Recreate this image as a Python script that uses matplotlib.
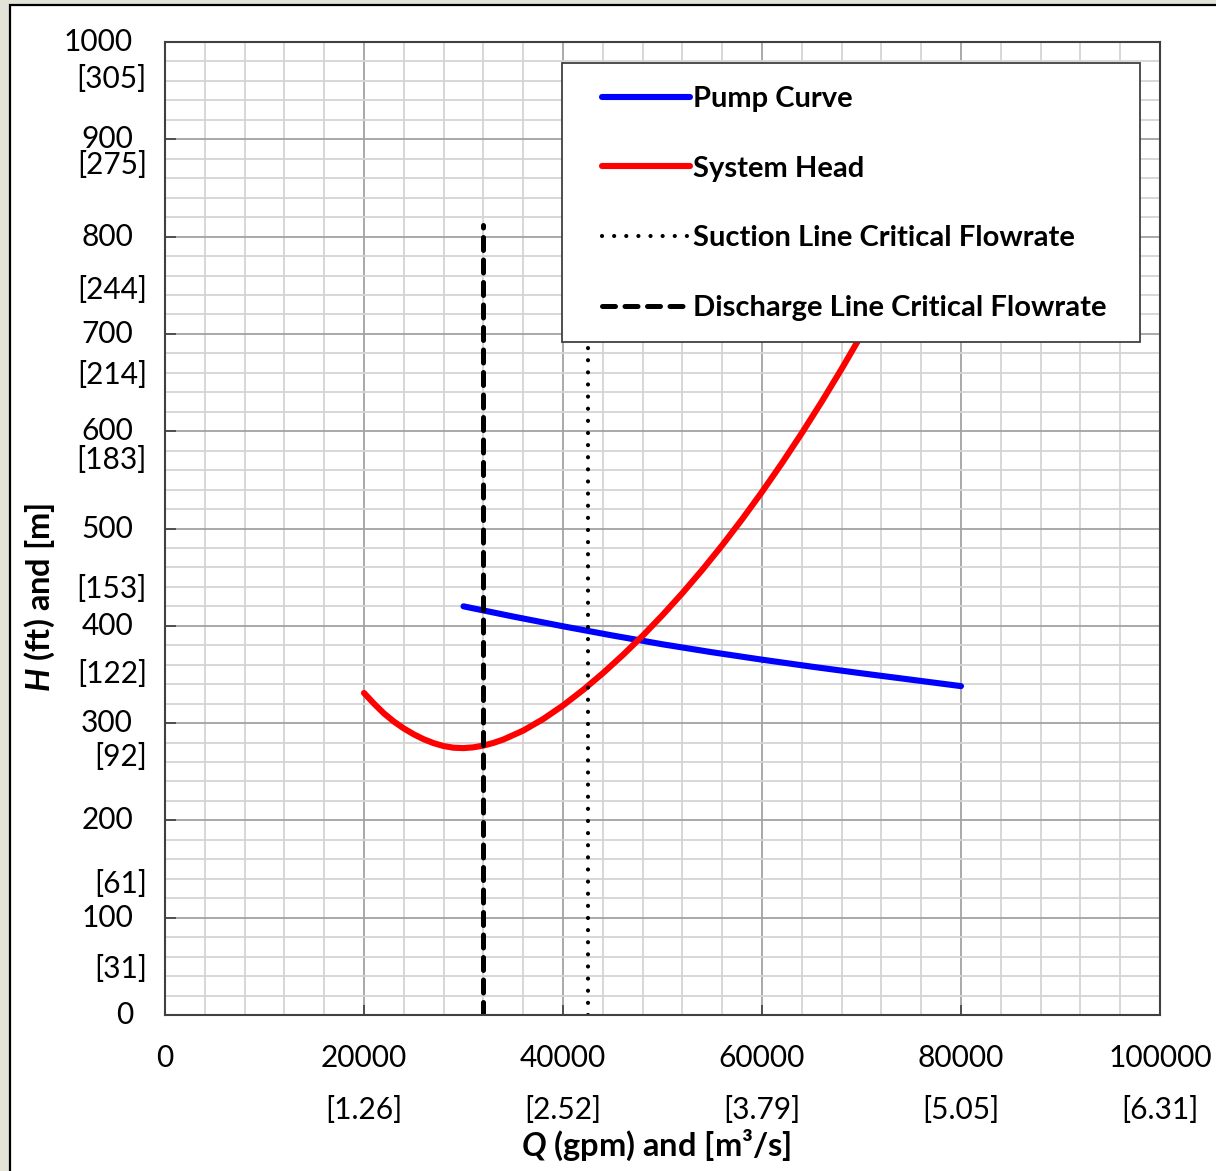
import matplotlib
matplotlib.use('Agg')
import matplotlib.pyplot as plt
from matplotlib.patches import Rectangle
from matplotlib.lines import Line2D

plt.rcParams['font.family'] = ['Lato', 'DejaVu Sans']
plt.rcParams['mathtext.fontset'] = 'custom'
plt.rcParams['mathtext.it'] = 'Lato:italic:bold'
plt.rcParams['mathtext.rm'] = 'Lato:bold'

# pump curve (gpm, ft)
pump_q = [30000, 35000, 40000, 45000, 50000, 55000, 60000, 65000, 70000, 75000, 80000]
pump_h = [420, 409.5, 399.5, 390, 381, 372.8, 365.2, 358, 351.2, 344.6, 338]

# system head curve (gpm, ft)
sys_q = [20000, 21000, 22000, 23000, 24000, 25000, 26000, 27000, 28000, 29000,
         30000, 31000, 32000, 33000, 34000, 36000, 38000,
         40000, 42000, 44000, 46000, 48000, 50000, 52000, 54000, 56000, 58000,
         60000, 62000, 64000, 66000, 68000, 70000, 72000, 74000, 76000]
sys_h = [331, 320, 310, 301.6, 294.5, 288.5, 283.4, 279.4, 276.4, 274.7,
         274.3, 275.1, 276.9, 279.6, 283.1, 292.3, 304.1,
         318.1, 333.9, 351.2, 369.8, 389.7, 411, 433.6, 457.5, 482.8, 509.5,
         537.6, 567.1, 598, 630.3, 664, 699.1, 735.6, 773.5, 812.8]

# critical flowrates (gpm) and height of the marker lines (ft)
suction_q = 42500
discharge_q = 32000
crit_top = 812

x_ticks = [0, 20000, 40000, 60000, 80000, 100000]
x_metric = ['', '[1.26]', '[2.52]', '[3.79]', '[5.05]', '[6.31]']
y_ticks = [0, 100, 200, 300, 400, 500, 600, 700, 800, 900, 1000]
y_metric = ['[305]', '[275]', '[244]', '[214]', '[183]', '[153]', '[122]', '[92]', '[61]', '[31]']
y_metric_at = [962, 874, 745, 658, 570, 438, 350, 265, 135, 47]

W, H = 1216, 1171
fig = plt.figure(figsize=(W / 100, H / 100), dpi=100)
fig.patch.set_facecolor('#e4e3d7')
fig.patches.append(Rectangle((10 / W, -0.05), 1.1, 1 - 5 / H + 0.05, transform=fig.transFigure,
                             facecolor='white', edgecolor='black', lw=1.6, zorder=-1))

ax = fig.add_axes([165 / W, 1 - 1015 / H, 995 / W, 973 / H])
ax.set_xlim(0, 100000)
ax.set_ylim(0, 1000)
ax.set_facecolor('white')

grey = '#404040'
for s in ax.spines.values():
    s.set_color(grey)
    s.set_linewidth(1.5)

ax.set_xticks(x_ticks)
ax.set_yticks(y_ticks)
ax.set_xticks(range(0, 100001, 4000), minor=True)
ax.set_yticks(range(0, 1001, 20), minor=True)
ax.grid(which='minor', color='#d4d4d4', lw=1.3)
ax.grid(which='major', color='#a2a2a2', lw=1.3)
ax.set_axisbelow(True)
ax.tick_params(which='major', direction='in', length=8, width=1.2, color=grey,
               labelbottom=False, labelleft=False)
ax.tick_params(which='minor', length=0)
ax.tick_params(axis='x', which='major', length=7)

fs = 21.5
for q, lab in zip(x_ticks, x_metric):
    ax.text(q, -0.0442, str(q), transform=ax.get_xaxis_transform(), ha='center', va='center', fontsize=fs)
    if lab:
        ax.text(q, -0.0976, lab, transform=ax.get_xaxis_transform(), ha='center', va='center', fontsize=fs)
for h in y_ticks:
    ax.text(-0.0322, h, str(h), transform=ax.get_yaxis_transform(), ha='right', va='center', fontsize=fs)
for h, lab in zip(y_metric_at, y_metric):
    ax.text(-0.0181, h, lab, transform=ax.get_yaxis_transform(), ha='right', va='center', fontsize=fs)

ax.plot(pump_q, pump_h, color='#0000ff', lw=4.4, solid_capstyle='round', solid_joinstyle='round')
ax.plot(sys_q, sys_h, color='#ff0000', lw=4.4, solid_capstyle='round', solid_joinstyle='round')
ax.plot([suction_q, suction_q], [0, crit_top], color='black', lw=3.0,
        dashes=(0.01, 2.9), dash_capstyle='round')
ax.plot([discharge_q, discharge_q], [0, crit_top], color='black', lw=3.6,
        dashes=(2.6, 1.9), dash_capstyle='round')

# legend box
ax.add_patch(Rectangle((397 / 995, (1015 - 342) / 973), 578 / 995, 279 / 973,
                       transform=ax.transAxes, facecolor='white', edgecolor=grey,
                       lw=1.3, zorder=5))
handles = [
    Line2D([], [], color='#0000ff', lw=4.4, solid_capstyle='round'),
    Line2D([], [], color='#ff0000', lw=4.4, solid_capstyle='round'),
    Line2D([], [], color='black', lw=3.0, dashes=(0.01, 2.9), dash_capstyle='round'),
    Line2D([], [], color='black', lw=3.6, dashes=(2.6, 1.9), dash_capstyle='round'),
]
labels = ['Pump Curve', 'System Head', 'Suction Line Critical Flowrate',
          'Discharge Line Critical Flowrate']
leg = ax.legend(handles, labels, loc='upper left', bbox_to_anchor=(0.4392, 0.955),
                frameon=False, borderpad=0, borderaxespad=0, handlelength=3.0,
                handletextpad=0.12, labelspacing=1.5, prop={'size': 21, 'weight': 'bold'})
leg.set_zorder(6)

fig.text(40 / W, 1 - 597 / H, r'$H$ (ft) and [m]', rotation=90, ha='center', va='center',
         fontsize=23.5, fontweight='bold')
fig.text(656 / W, 1 - 1145 / H, r'$Q$ (gpm) and [m³/s]', ha='center', va='center',
         fontsize=23.5, fontweight='bold')

fig.savefig('out.png', dpi=100, facecolor=fig.get_facecolor())
